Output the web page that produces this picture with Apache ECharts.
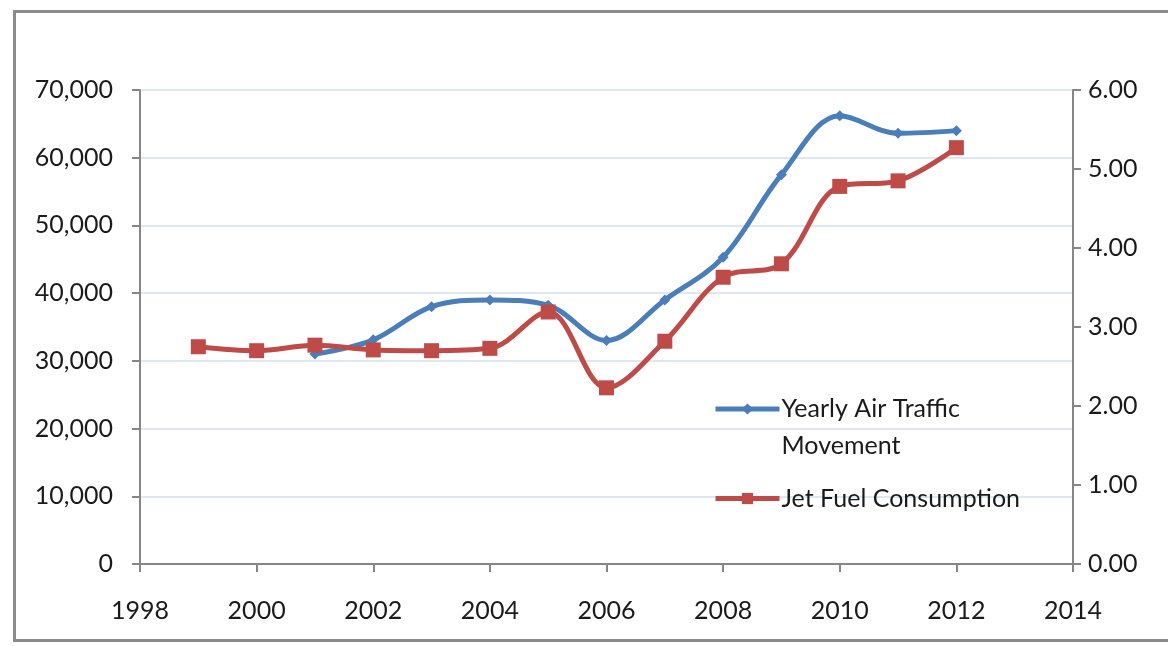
<!DOCTYPE html>
<html>
<head>
<meta charset="utf-8">
<script src="https://cdn.jsdelivr.net/npm/echarts@6/dist/echarts.min.js"></script>
<style>
html,body{margin:0;padding:0;background:#fff;}
#c{width:1168px;height:646px;}
</style>
</head>
<body>
<div id="c"></div>
<script>
var years = [1999,2000,2001,2002,2003,2004,2005,2006,2007,2008,2009,2010,2011,2012];
var trafficYears = [2001,2002,2003,2004,2005,2006,2007,2008,2009,2010,2011,2012];
var trafficValues = [31000,33100,38000,39000,38200,33000,39000,45300,57500,66200,63600,64000];
var fuelValues = [2.75,2.70,2.77,2.71,2.70,2.73,3.19,2.23,2.82,3.63,3.80,4.78,4.85,5.27];
var seriesNames = ['Yearly Air Traffic Movement','Jet Fuel Consumption'];

var chart = echarts.init(document.getElementById('c'));
var font = 'Lato, "Open Sans", sans-serif';
var textColor = '#1a1a1a';
var axisColor = '#868686';

chart.setOption({
  animation:false,
  backgroundColor:'#fff',
  textStyle:{fontFamily:font},
  graphic:[{
    type:'rect', left:12, top:9,
    shape:{width:1180,height:629},
    style:{fill:'none',stroke:'#8c8c8c',lineWidth:3}
  }],
  grid:{left:140,right:95,top:90,bottom:82},
  legend:{
    orient:'vertical', left:713, top:360, padding:0,
    itemWidth:64, itemHeight:14, itemGap:22,
    data:seriesNames,
    lineStyle:{width:5},
    formatter:function(n){return n==='Yearly Air Traffic Movement'?'{p|Yearly Air Traffic\nMovement}':n;},
    textStyle:{fontFamily:font,fontSize:25,color:textColor,lineHeight:37,padding:[0,0,0,-3],
      rich:{p:{fontFamily:font,fontSize:25,color:textColor,lineHeight:37,padding:[36,0,0,0]}}}
  },
  xAxis:{
    type:'value', min:1998, max:2014, interval:2,
    axisLine:{lineStyle:{color:axisColor,width:2}},
    axisTick:{show:true,length:8,lineStyle:{color:axisColor,width:2}},
    splitLine:{show:false},
    axisLabel:{fontFamily:font,fontSize:25,color:textColor,margin:34,
      formatter:function(v){return String(v);}}
  },
  yAxis:[{
    type:'value', min:0, max:70000, interval:10000,
    axisLine:{show:true,lineStyle:{color:axisColor,width:2}},
    axisTick:{show:true,length:8,lineStyle:{color:axisColor,width:2}},
    splitLine:{show:true,lineStyle:{color:'#dfe7f2',width:2}},
    axisLabel:{fontFamily:font,fontSize:25,color:textColor,margin:27,
      formatter:function(v){return v.toLocaleString('en-US');}}
  },{
    type:'value', min:0, max:6, interval:1,
    axisLine:{show:true,lineStyle:{color:axisColor,width:2}},
    axisTick:{show:true,length:8,lineStyle:{color:axisColor,width:2}},
    splitLine:{show:false},
    axisLabel:{fontFamily:font,fontSize:25,color:textColor,margin:15,
      formatter:function(v){return v.toFixed(2);}}
  }],
  series:[{
    name:seriesNames[0], type:'line', yAxisIndex:0, smooth:0.35,
    data:trafficYears.map(function(y,i){return [y,trafficValues[i]];}),
    symbol:'diamond', symbolSize:11, showAllSymbol:true,
    lineStyle:{color:'#4a7ebb',width:5},
    itemStyle:{color:'#4a7ebb'}
  },{
    name:seriesNames[1], type:'line', yAxisIndex:1, smooth:0.35,
    data:years.map(function(y,i){return [y,fuelValues[i]];}),
    symbol:'rect', symbolSize:15, showAllSymbol:true,
    lineStyle:{color:'#be4b48',width:5},
    itemStyle:{color:'#be4b48'}
  }]
});
</script>
</body>
</html>
